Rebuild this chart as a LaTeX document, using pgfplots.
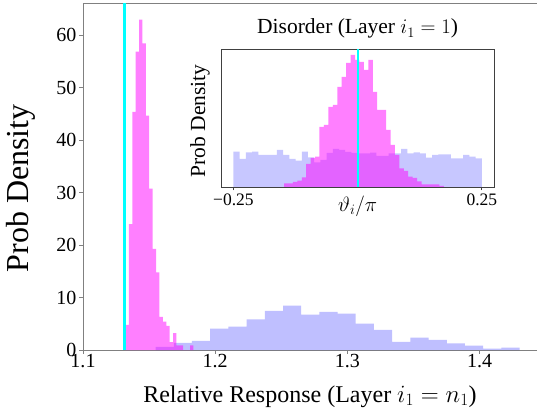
\documentclass[border=0pt]{standalone}
\usepackage{fontspec}
\setmainfont{Liberation Serif}
\usepackage{pgfplots}
\pgfplotsset{compat=1.18}
\definecolor{spine}{RGB}{128,128,128}
\definecolor{ispine}{RGB}{64,64,64}
\definecolor{mag}{RGB}{255,0,255}
\definecolor{cyn}{RGB}{0,255,255}
\definecolor{blu}{RGB}{0,0,255}
\begin{document}
\begin{tikzpicture}
\useasboundingbox (-83pt,-62pt) rectangle (454pt,350pt);
\begin{axis}[
  at={(0pt,0pt)}, anchor=south west, scale only axis,
  width=454pt, height=347pt,
  xmin=1.1, xmax=1.4434, ymin=0, ymax=66.18,
  axis x line*=box, axis y line*=left,
  axis line style={spine, line width=0.8pt},
  xtick={1.1,1.2,1.3,1.4}, ytick={0,10,20,30,40,50,60},
  xtick pos=lower, ytick pos=left,
  tick align=outside, major tick length=3.5pt,
  tick style={spine, line width=0.8pt},
  /pgf/number format/assume math mode=true,
  /pgf/number format/fixed, /pgf/number format/precision=1,
  ticklabel style={font=\fontsize{20}{24}\selectfont},
  xticklabel style={anchor=north, inner sep=0pt, yshift=-1pt},
  yticklabel style={anchor=east, inner sep=0pt, xshift=-3pt},
  xlabel={Relative Response (Layer $i_1 = n_1$)},
  xlabel style={font=\fontsize{24}{28}\selectfont, at={(axis description cs:0.5,-0.1499)}, anchor=base},
  ylabel={Prob Density},
  ylabel style={font=\fontsize{32}{36}\selectfont, at={(axis description cs:-0.1377,0.4657)}, anchor=center},
]
\addplot[const plot, fill=blu, fill opacity=0.25, draw=none] coordinates {
(1.1549,0.6) (1.1687,1.34) (1.1824,1.72) (1.1962,4.1) (1.2100,4.45) (1.2237,5.85)
(1.2375,7.44) (1.2513,8.46) (1.2650,6.74) (1.2788,7.25) (1.2926,6.93) (1.3063,5.02)
(1.3201,3.82) (1.3339,1.53) (1.3476,2.35) (1.3614,1.91) (1.3752,1.27) (1.3889,0.83)
(1.4027,0.25) (1.4165,0.45) (1.4303,0.45)
} \closedcycle;
\addplot[const plot, fill=mag, fill opacity=0.5, draw=none] coordinates {
(1.1321,4.8) (1.1347,24) (1.1373,45.4) (1.1398,56.9) (1.1424,63) (1.1450,58.5)
(1.1475,44.7) (1.1501,30.8) (1.1527,19.3) (1.1553,14.8) (1.1578,6.3) (1.1604,5.4)
(1.1630,4.6) (1.1655,1.5) (1.1681,3.2) (1.1707,0.9) (1.1733,0.9) (1.1758,0)
(1.1784,0) (1.1810,0.9) (1.1835,0.9)
} \closedcycle;
\addplot[cyn, line width=3pt] coordinates {(1.13154,0) (1.13154,66.18)};
\end{axis}
\begin{axis}[
  at={(138pt,163pt)}, anchor=south west, scale only axis,
  width=273.3pt, height=138pt,
  xmin=-0.275, xmax=0.275, ymin=0, ymax=138,
  axis background/.style={fill=white},
  axis line style={ispine, line width=0.8pt},
  xtick={-0.25,0.25}, xticklabels={−0.25,0.25}, ytick=\empty,
  xtick pos=lower,
  tick align=outside, major tick length=3.5pt,
  tick style={ispine, line width=0.8pt},
  ticklabel style={font=\fontsize{17.5}{20}\selectfont},
  xticklabel style={anchor=north, inner sep=0pt, yshift=-3pt},
  title={Disorder (Layer $i_1=1$)},
  title style={font=\fontsize{21.5}{24}\selectfont, at={(axis description cs:0.5,1.0652)}, anchor=base},
  xlabel={$\vartheta_i/\pi$},
  xlabel style={font=\fontsize{21.5}{24}\selectfont, at={(axis description cs:0.5,-0.174)}, anchor=base},
  ylabel={Prob Density},
  ylabel style={font=\fontsize{21.5}{24}\selectfont, at={(axis description cs:-0.0768,0.48)}, anchor=center},
]
\addplot[const plot, fill=blu, fill opacity=0.22, draw=none] coordinates {
(-0.2500,35.3) (-0.2375,28) (-0.2250,34.7) (-0.2125,35.3) (-0.2000,32) (-0.1875,32)
(-0.1750,32) (-0.1625,37) (-0.1500,32) (-0.1375,28) (-0.1250,26.3) (-0.1125,35.3)
(-0.1000,29.7) (-0.0875,24.7) (-0.0750,27) (-0.0625,34) (-0.0500,38) (-0.0375,37)
(-0.0250,35) (-0.0125,34) (0.0000,33.7) (0.0125,33.7) (0.0250,34.3) (0.0375,31)
(0.0500,31) (0.0625,33.7) (0.0750,33.7) (0.0875,38) (0.1000,33.7) (0.1125,34.7)
(0.1250,33.7) (0.1375,29.3) (0.1500,32) (0.1625,32.7) (0.1750,32.7) (0.1875,28.7)
(0.2000,28.7) (0.2125,32) (0.2250,30.3) (0.2375,28.7) (0.2500,28.7)
} \closedcycle;
\addplot[const plot, fill=mag, fill opacity=0.5, draw=none] coordinates {
(-0.1482,3.7) (-0.1393,3.7) (-0.1304,5) (-0.1214,6.3) (-0.1125,9.7) (-0.1036,23)
(-0.0946,29) (-0.0857,30.3) (-0.0768,60) (-0.0678,62) (-0.0589,80) (-0.0500,82)
(-0.0410,100) (-0.0321,110) (-0.0232,124) (-0.0143,132) (-0.0053,127) (0.0036,125)
(0.0125,117) (0.0215,127) (0.0304,95) (0.0393,77) (0.0483,77) (0.0572,57)
(0.0661,42) (0.0750,32) (0.0840,18.7) (0.0929,16) (0.1018,10.3) (0.1108,9)
(0.1197,5.7) (0.1286,2.7) (0.1376,2.7) (0.1465,2.7) (0.1554,2.7) (0.1644,1) (0.1733,1)
} \closedcycle;
\addplot[cyn, line width=2.5pt] coordinates {(0.0006,0) (0.0006,138)};
\end{axis}
\end{tikzpicture}
\end{document}
